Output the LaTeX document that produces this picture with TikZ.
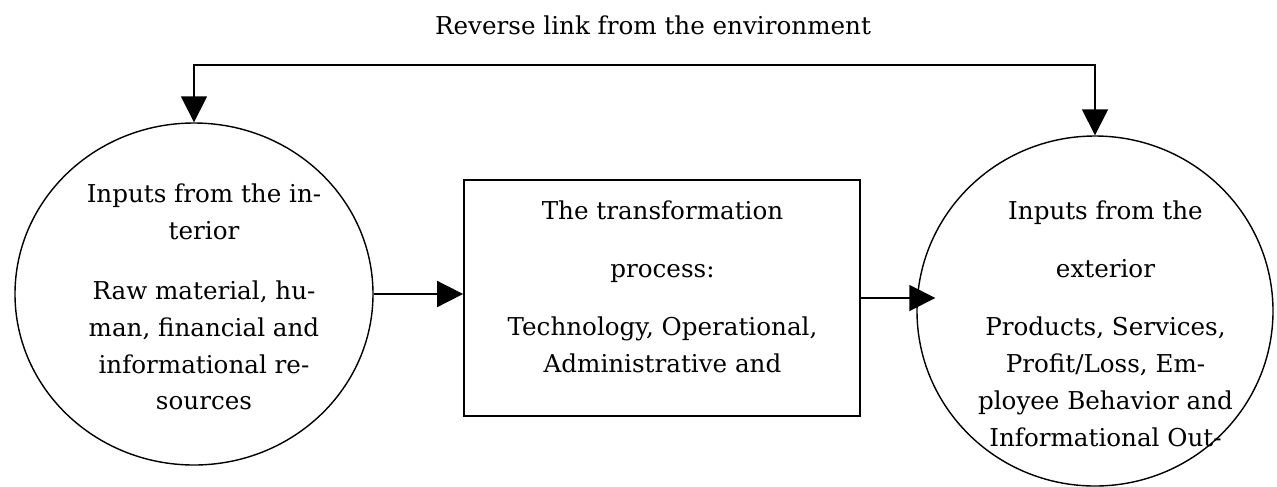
\documentclass[tikz,border=0pt]{standalone}
\usepackage{fontspec}
\setmainfont{DejaVu Serif}
\usepackage{tikz}
\usetikzlibrary{arrows.meta, shapes.geometric, positioning, calc}

\begin{document}
\begin{tikzpicture}[
		txt/.style={font=\fontsize{14}{21}\selectfont, align=center, inner sep=0pt},
		circ/.style={draw, ellipse, line width=0.8pt, inner sep=0pt},
		flow/.style={line width=1pt, >={Triangle[length=0.52cm, width=0.52cm]}}
	]
		\useasboundingbox (0,0) rectangle (25.54,-9.72);
		\clip (0,0) rectangle (25.54,-9.72);

		\node[txt] (0) at (13.06,-0.51) {Reverse link from the environment};

		\node[circ, minimum width=7.16cm, minimum height=6.84cm] (1) at (3.88,-5.88) {};
		\node[draw, line width=1pt, minimum width=7.92cm, minimum height=4.72cm] (2) at (13.24,-5.96) {};
		\node[circ, minimum width=7.12cm, minimum height=7.00cm] (3) at (21.90,-6.22) {};

		\node[txt] (4) at (4.08,-5.94) {Inputs from the in-\\terior\\[0.46cm]Raw material, hu-\\man, financial and\\informational re-\\sources};
		\node[txt] (5) at (13.25,-5.74) {The transformation\\[0.42cm]process:\\[0.42cm]Technology, Operational,\\Administrative and};
		\node[txt] (6) at (22.11,-6.48) {Inputs from the\\[0.42cm]exterior\\[0.42cm]Products, Services,\\Profit/Loss, Em-\\ployee Behavior and\\Informational Out-};

		\coordinate (7) at (13,-1.30);
		\draw[flow, <->] (1.north) |- (7) -| (3.north);
		\draw[flow, ->] (1.east) -- (2.west |- 1.east);
		\draw[flow, ->, shorten >=-0.38cm] (2.east) -- (2.east -| 3.west);

	\end{tikzpicture}
\end{document}
